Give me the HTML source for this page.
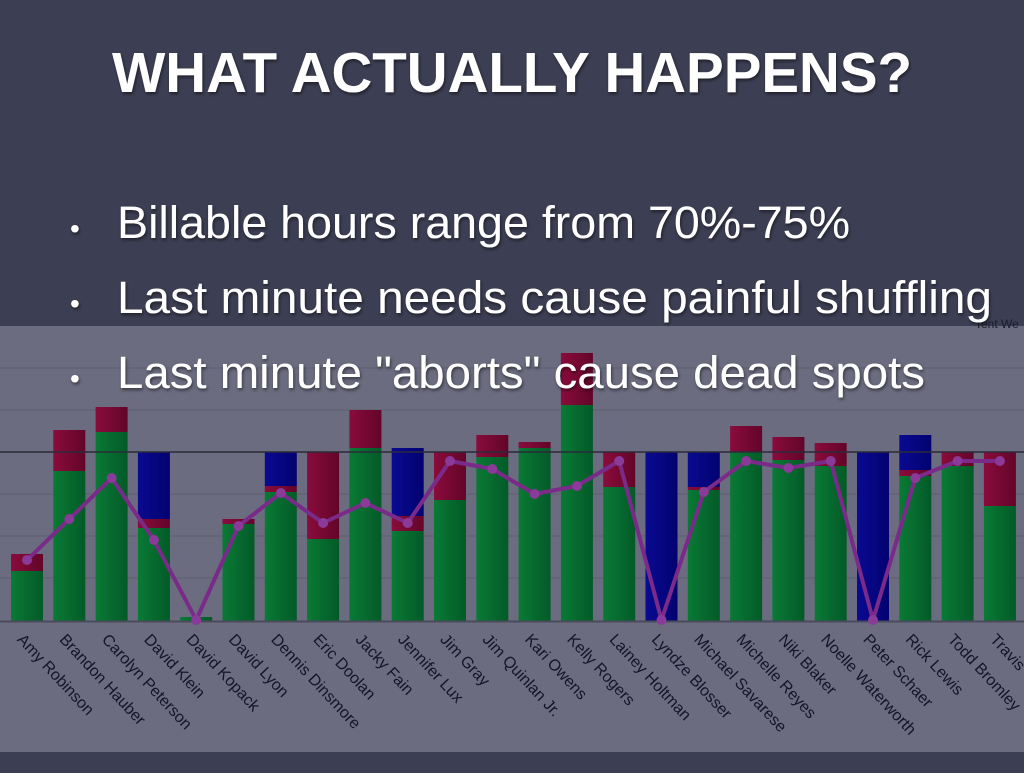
<!DOCTYPE html>
<html><head><style>
body{margin:0;width:1024px;height:768px;background:#3c3e53;overflow:hidden;font-family:"Liberation Sans",sans-serif}
</style></head><body>
<svg width="1024" height="768" xmlns="http://www.w3.org/2000/svg">
<defs>
<linearGradient id="g" x1="0" x2="1"><stop offset="0" stop-color="#0a7a35"/><stop offset="1" stop-color="#035a28"/></linearGradient>
<linearGradient id="r" x1="0" x2="1"><stop offset="0" stop-color="#8a0c3c"/><stop offset="1" stop-color="#620528"/></linearGradient>
<linearGradient id="b" x1="0" x2="1"><stop offset="0" stop-color="#0a0a92"/><stop offset="1" stop-color="#020270"/></linearGradient>
<filter id="sh"><feDropShadow dx="1" dy="2" stdDeviation="1.5" flood-color="#000" flood-opacity="0.5"/></filter>
</defs>
<rect x="0" y="0" width="1024" height="768" fill="#3c3e53"/>
<rect x="0" y="326" width="1024" height="426" fill="#6b6c7f"/>
<g stroke="#5e5f72" stroke-width="1">
<line x1="0" y1="368" x2="1024" y2="368"/><line x1="0" y1="410" x2="1024" y2="410"/>
<line x1="0" y1="494" x2="1024" y2="494"/><line x1="0" y1="536" x2="1024" y2="536"/><line x1="0" y1="578" x2="1024" y2="578"/>
</g>
<g id="bars"></g>
<line x1="0" y1="452" x2="1024" y2="452" stroke="#2a2a3a" stroke-width="1.5"/>
<line x1="0" y1="621.5" x2="1024" y2="621.5" stroke="#4a4b5c" stroke-width="2"/>
<polyline id="ln" fill="none" stroke="#7a2a88" stroke-width="4" stroke-linejoin="round"/>
<g id="dots" fill="#8a3a98"></g>
<g id="labels" font-size="16" fill="#15152a"></g>
<text x="975" y="328" font-size="12" fill="#1c1c2c">Tent We</text>
<text x="512" y="92" text-anchor="middle" font-size="57" font-weight="bold" fill="#fff" filter="url(#sh)" textLength="800" lengthAdjust="spacingAndGlyphs">WHAT ACTUALLY HAPPENS?</text>
<g font-size="45" fill="#fff" filter="url(#sh)" font-weight="300">
<text x="70" y="238" font-size="28">•</text><text x="117" y="238" textLength="733" lengthAdjust="spacingAndGlyphs">Billable hours range from 70%-75%</text>
<text x="70" y="313" font-size="28">•</text><text x="117" y="313" textLength="875" lengthAdjust="spacingAndGlyphs">Last minute needs cause painful shuffling</text>
<text x="70" y="388" font-size="28">•</text><text x="117" y="388" textLength="808" lengthAdjust="spacingAndGlyphs">Last minute "aborts" cause dead spots</text>
</g>
</svg>
<script>
const D=[
["Amy Robinson",571,554,0,560],["Brandon Hauber",471,430,0,519],["Carolyn Peterson",432,407,0,478],
["David Klein",528,519,452,540],["David Kopack",617,617,0,620],["David Lyon",524,519,0,526],
["Dennis Dinsmore",492,486,452,493],["Eric Doolan",539,452,0,523],["Jacky Fain",448,410,0,503],
["Jennifer Lux",531,516,448,523],["Jim Gray",500,452,0,461],["Jim Quinlan Jr.",457,435,0,469],
["Kari Owens",448,442,0,494],["Kelly Rogers",405,353,0,486],["Lainey Holtman",487,452,0,461],
["Lyndze Blosser",621,621,452,620],["Michael Savarese",490,487,452,492],["Michelle Reyes",452,426,0,461],
["Niki Blaker",460,437,0,468],["Noelle Waterworth",466,443,0,461],["Peter Schaer",621,621,452,620],
["Rick Lewis",476,470,435,478],["Todd Bromley",466,452,0,461],["Travis Wilson",506,452,0,461]];
const ns="http://www.w3.org/2000/svg";
function el(t,a,p){const e=document.createElementNS(ns,t);for(const k in a)e.setAttribute(k,a[k]);p.appendChild(e);return e;}
const bars=document.getElementById('bars'),dots=document.getElementById('dots'),lab=document.getElementById('labels');
let pts=[];
D.forEach((d,i)=>{const x=11+i*42.3,w=32,cx=x+16;
 if(d[3])el('rect',{x:x,y:d[3],width:w,height:d[2]-d[3],fill:'url(#b)'},bars);
 el('rect',{x:x,y:d[2],width:w,height:d[1]-d[2],fill:'url(#r)'},bars);
 el('rect',{x:x,y:d[1],width:w,height:621-d[1],fill:'url(#g)'},bars);
 pts.push(cx+','+d[4]);el('circle',{cx:cx,cy:d[4],r:5},dots);
 const t=el('text',{x:cx-4,y:643,transform:`rotate(47 ${cx-4} 634)`},lab);t.textContent=d[0];});
document.getElementById('ln').setAttribute('points',pts.join(' '));
</script>
</body></html>
